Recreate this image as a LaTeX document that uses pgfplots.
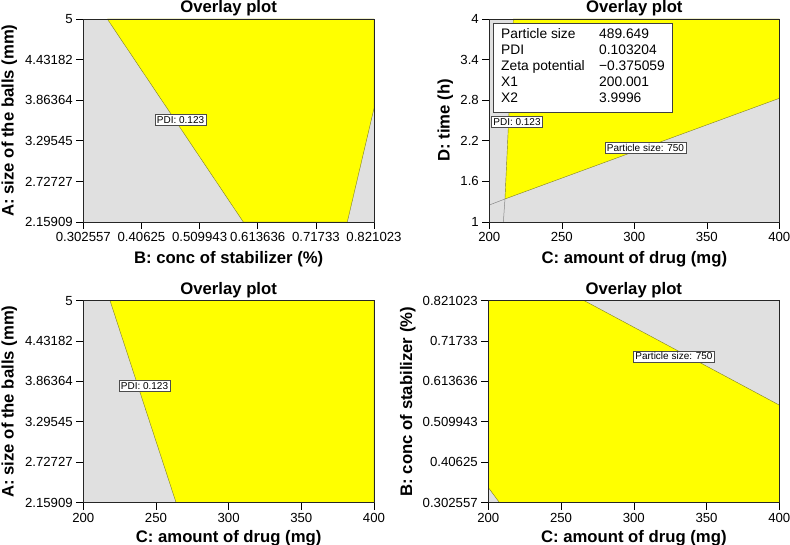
\documentclass[border=0pt]{standalone}
\usepackage{fontspec}
\setmainfont{Liberation Sans}
\usepackage{pgfplots}
\pgfplotsset{compat=1.18}
\definecolor{bggray}{RGB}{224,224,224}
\definecolor{yel}{RGB}{255,255,0}
\definecolor{edge}{RGB}{125,125,45}
\definecolor{lgray}{RGB}{135,135,135}
\newcommand{\tfont}{\fontsize{13.2}{15}\selectfont}
\newcommand{\T}[1]{{\tfont #1}}
\pgfplotsset{
  ov/.style={
    scale only axis, anchor=south west,
    axis background/.style={fill=bggray},
    axis on top,
    tick align=outside, major tick length=7pt,
    tick pos=left,
    tick style={black, line width=0.6pt},
    axis line style={black!85, line width=0.6pt},
    tick label style={font=\tfont},
    title={Overlay plot},
    title style={font=\bfseries\fontsize{16.7}{20}\selectfont, at={([yshift=0.5pt]axis description cs:0.5,1)}, anchor=base},
    label style={font=\bfseries\fontsize{16.7}{20}\selectfont},
    /pgf/number format/assume math mode=true,
  },
}
\tikzset{lab/.style={draw=black!70, fill=white, font=\fontsize{10}{12}\selectfont, inner sep=1.8pt, line width=0.5pt}}
\begin{document}
\begin{tikzpicture}
\path[use as bounding box] (0,0) rectangle (790pt,-545pt);

% ---------- Panel 1 ----------
\begin{axis}[ov, at={(83.3pt,-222pt)}, width=290.7pt, height=203pt,
  xmin=0.302557, xmax=0.821023, ymin=2.15909, ymax=5,
  xtick={0.302557,0.40625,0.509943,0.613636,0.71733,0.821023},
  xticklabels={\T{0.302557},\T{0.40625},\T{0.509943},\T{0.613636},\T{0.71733},\T{0.821023}},
  ytick={2.15909,2.72727,3.29545,3.86364,4.43182,5},
  yticklabels={\T{2.15909},\T{2.72727},\T{3.29545},\T{3.86364},\T{4.43182},\T{5}},
  xlabel={B: conc of stabilizer (\%)},
  ylabel={A: size of the balls (mm)},
  xlabel style={at={([yshift=-42pt]axis description cs:0.5,0)}, anchor=base},
  ylabel style={at={([xshift=-69.6pt]axis description cs:0,0.5)}, anchor=base},
]
\addplot[fill=yel, draw=edge, line width=0.4pt] coordinates {
 (0.3454,5) (0.821023,5) (0.821023,3.750) (0.7734,2.15909) (0.5879,2.15909) (0.3454,5)};
\node[lab] at (axis cs:0.476,3.586) {PDI: 0.123};
\end{axis}

% ---------- Panel 2 ----------
\begin{axis}[ov, at={(489.3pt,-222pt)}, width=290pt, height=203pt,
  xmin=200, xmax=400, ymin=1, ymax=4,
  xtick={200,250,300,350,400}, xticklabels={\T{200},\T{250},\T{300},\T{350},\T{400}},
  ytick={1,1.6,2.2,2.8,3.4,4}, yticklabels={\T{1},\T{1.6},\T{2.2},\T{2.8},\T{3.4},\T{4}},
  xlabel={C: amount of drug (mg)},
  ylabel={D: time (h)},
  xlabel style={at={([yshift=-41.5pt]axis description cs:0.5,0)}, anchor=base},
  ylabel style={at={([xshift=-39.6pt]axis description cs:0,0.5)}, anchor=base},
]
\addplot[fill=yel, draw=edge, line width=0.4pt] coordinates {
 (210.8,1.34) (216.6,4) (400,4) (400,2.828) (210.8,1.34)};
\addplot[lgray, line width=0.5pt] coordinates {(209.7,1) (210.8,1.34)};
\addplot[lgray, line width=0.5pt] coordinates {(200,1.251) (210.8,1.34)};
\node[lab] at (axis cs:219.1,2.478) {PDI: 0.123};
\node[lab] at (axis cs:307.7,2.094) {Particle size: 750};
\node[anchor=north west, draw=black!75, fill=white, inner xsep=7.6pt, inner ysep=4.3pt,
      line width=0.6pt, font=\fontsize{13.8}{16.1}\selectfont] at (axis cs:202.75,3.945)
 {\begin{tabular}{@{}p{98pt}@{}l@{}}
  Particle size & 489.649\\
  PDI & 0.103204\\
  Zeta potential & −0.375059\\
  X1 & 200.001\\
  X2 & 3.9996
 \end{tabular}};
\end{axis}

% ---------- Panel 3 ----------
\begin{axis}[ov, at={(83.3pt,-502.5pt)}, width=290.7pt, height=201.8pt,
  xmin=200, xmax=400, ymin=2.15909, ymax=5,
  xtick={200,250,300,350,400}, xticklabels={\T{200},\T{250},\T{300},\T{350},\T{400}},
  ytick={2.15909,2.72727,3.29545,3.86364,4.43182,5},
  yticklabels={\T{2.15909},\T{2.72727},\T{3.29545},\T{3.86364},\T{4.43182},\T{5}},
  xlabel={C: amount of drug (mg)},
  ylabel={A: size of the balls (mm)},
  xlabel style={at={([yshift=-39.5pt]axis description cs:0.5,0)}, anchor=base},
  ylabel style={at={([xshift=-69.6pt]axis description cs:0,0.5)}, anchor=base},
]
\addplot[fill=yel, draw=edge, line width=0.4pt] coordinates {
 (218.4,5) (400,5) (400,2.15909) (263.8,2.15909) (218.4,5)};
\node[lab] at (axis cs:242.1,3.802) {PDI: 0.123};
\end{axis}

% ---------- Panel 4 ----------
\begin{axis}[ov, at={(488.3pt,-502.5pt)}, width=291pt, height=201.8pt,
  xmin=200, xmax=400, ymin=0.302557, ymax=0.821023,
  xtick={200,250,300,350,400}, xticklabels={\T{200},\T{250},\T{300},\T{350},\T{400}},
  ytick={0.302557,0.40625,0.509943,0.613636,0.71733,0.821023},
  yticklabels={\T{0.302557},\T{0.40625},\T{0.509943},\T{0.613636},\T{0.71733},\T{0.821023}},
  xlabel={C: amount of drug (mg)},
  ylabel={B: conc of stabilizer (\%)},
  xlabel style={at={([yshift=-39.5pt]axis description cs:0.5,0)}, anchor=base},
  ylabel style={at={([xshift=-76.3pt]axis description cs:0,0.5)}, anchor=base},
]
\addplot[fill=yel, draw=edge, line width=0.4pt] coordinates {
 (200,0.3411) (200,0.821023) (266,0.821023) (400,0.5528) (400,0.302557) (207.6,0.302557) (200,0.3411)};
\node[lab] at (axis cs:327.6,0.678) {Particle size: 750};
\end{axis}
\end{tikzpicture}
\end{document}
